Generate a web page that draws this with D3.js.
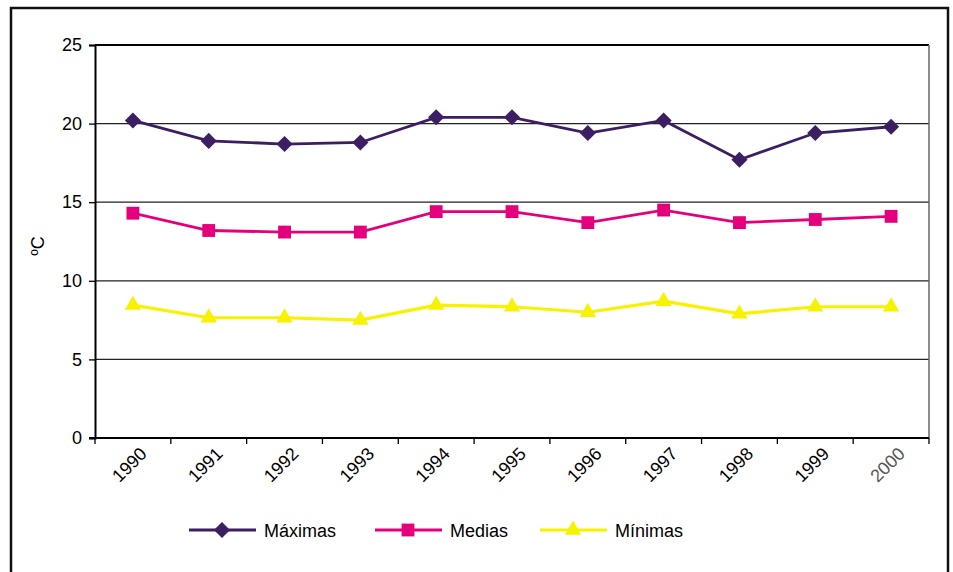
<!DOCTYPE html>
<html>
<head>
<meta charset="utf-8">
<script src="https://cdn.jsdelivr.net/npm/d3@7"></script>
<style>
  body { margin: 0; background: #fff; }
  svg { display: block; font-family: "Liberation Sans", Arial, sans-serif; }
</style>
</head>
<body>
<svg id="chart" width="953" height="572"></svg>
<script>
const years = ["1990", "1991", "1992", "1993", "1994", "1995", "1996", "1997", "1998", "1999", "2000"];
const maximas = [20.2, 18.9, 18.7, 18.8, 20.4, 20.4, 19.4, 20.2, 17.7, 19.4, 19.8];
const medias = [14.3, 13.2, 13.1, 13.1, 14.4, 14.4, 13.7, 14.5, 13.7, 13.9, 14.1];
const minimas = [8.45, 7.65, 7.65, 7.5, 8.45, 8.35, 8.0, 8.7, 7.9, 8.35, 8.35];
const yTicks = [0, 5, 10, 15, 20, 25];

const series = [
    { name: "Máximas", values: maximas, color: "#3c1f63", symbol: d3.symbolSquare, size: 130, rot: 45, width: 2.8 },
    { name: "Medias", values: medias, color: "#e4007c", symbol: d3.symbolSquare, size: 165, rot: 0, width: 2.8 },
    { name: "Mínimas", values: minimas, color: "#f7f200", symbol: d3.symbolTriangle, size: 115, rot: 0, width: 3.2 }
];
const legendOffsets = [0, 186, 351];

const svg = d3.select("#chart");
const plotLeft = 95, plotRight = 929, plotTop = 45, plotBottom = 438;

// outer frame
svg.append("rect")
    .attr("x", 11).attr("y", 8)
    .attr("width", 937).attr("height", 600)
    .attr("fill", "none")
    .attr("stroke", "#111")
    .attr("stroke-width", 2.5);

const x = d3.scaleBand().domain(years).range([plotLeft, plotRight]);
const y = d3.scaleLinear().domain([0, 25]).range([plotBottom, plotTop]);

// gridlines
svg.append("g")
    .selectAll("line")
    .data(yTicks.filter(t => t > 0 && t < 25))
    .enter()
    .append("line")
    .attr("x1", plotLeft).attr("x2", plotRight)
    .attr("y1", d => y(d)).attr("y2", d => y(d))
    .attr("stroke", "#222")
    .attr("stroke-width", 1.3);

// plot frame top and right
svg.append("line")
    .attr("x1", plotLeft).attr("x2", plotRight)
    .attr("y1", y(25)).attr("y2", y(25))
    .attr("stroke", "#000").attr("stroke-width", 2);
svg.append("line")
    .attr("x1", plotRight).attr("x2", plotRight)
    .attr("y1", y(25)).attr("y2", plotBottom)
    .attr("stroke", "#666").attr("stroke-width", 1.5);

// y axis
const yAxis = svg.append("g")
    .attr("transform", `translate(${plotLeft},0)`)
    .call(d3.axisLeft(y).tickValues(yTicks).tickSize(6).tickPadding(7));
yAxis.select(".domain").attr("stroke", "#000").attr("stroke-width", 2);
yAxis.selectAll(".tick line").attr("stroke", "#000").attr("stroke-width", 1.3);
yAxis.selectAll(".tick text")
    .attr("font-size", 18)
    .attr("fill", "#000")
    .attr("font-family", "Liberation Sans, Arial, sans-serif");

// x axis with ticks on category boundaries
const xAxis = svg.append("g").attr("transform", `translate(0,${plotBottom})`);
xAxis.append("line")
    .attr("x1", plotLeft - 6).attr("x2", plotRight)
    .attr("stroke", "#000").attr("stroke-width", 1.8);
xAxis.selectAll("line.tk")
    .data(years.concat(["end"]))
    .enter()
    .append("line")
    .attr("class", "tk")
    .attr("x1", (d, i) => i < years.length ? x(d) : x(years[years.length - 1]) + x.bandwidth())
    .attr("x2", (d, i) => i < years.length ? x(d) : x(years[years.length - 1]) + x.bandwidth())
    .attr("y1", 0).attr("y2", 6)
    .attr("stroke", "#000").attr("stroke-width", 1.3);
xAxis.selectAll("text")
    .data(years)
    .enter()
    .append("text")
    .attr("transform", d => `translate(${x(d) + x.bandwidth() / 2 + 15},${17}) rotate(-45)`)
    .attr("text-anchor", "end")
    .attr("font-size", 18)
    .attr("fill", d => d === "2000" ? "#555" : "#000")
    .text(d => d);

// y label
svg.append("text")
    .attr("transform", "translate(44,246) rotate(-90)")
    .attr("text-anchor", "middle")
    .attr("font-size", 18)
    .text("ºC");

// series
const line = d3.line()
    .x((d, i) => x(years[i]) + x.bandwidth() / 2)
    .y(d => y(d));

series.forEach(s => {
    svg.append("path")
        .datum(s.values)
        .attr("d", line)
        .attr("fill", "none")
        .attr("stroke", s.color)
        .attr("stroke-width", s.width);

    svg.append("g")
        .selectAll("path")
        .data(s.values)
        .enter()
        .append("path")
        .attr("d", d3.symbol().type(s.symbol).size(s.size))
        .attr("transform", (d, i) => `translate(${x(years[i]) + x.bandwidth() / 2},${y(d)}) rotate(${s.rot})`)
        .attr("fill", s.color);
});

// legend
const legend = svg.append("g").attr("transform", "translate(189,530)");
series.forEach((s, i) => {
    const g = legend.append("g").attr("transform", `translate(${legendOffsets[i]},0)`);
    g.append("line")
        .attr("x1", 0).attr("x2", 67)
        .attr("stroke", s.color).attr("stroke-width", s.width);
    g.append("path")
        .attr("d", d3.symbol().type(s.symbol).size(s.size))
        .attr("transform", `translate(33,0) rotate(${s.rot})`)
        .attr("fill", s.color);
    g.append("text")
        .attr("x", 75).attr("y", 7)
        .attr("font-size", 18)
        .text(s.name);
});
</script>
</body>
</html>
